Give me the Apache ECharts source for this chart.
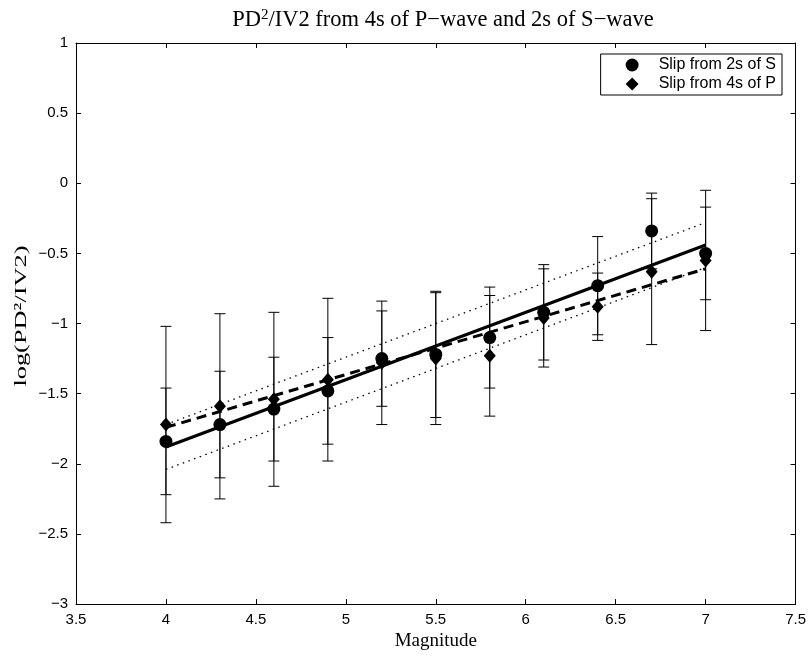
<!DOCTYPE html>
<html>
<head>
<meta charset="utf-8">
<script src="https://cdn.jsdelivr.net/npm/echarts@6/dist/echarts.min.js"></script>
<style>
  html, body { margin: 0; padding: 0; background: #fff; }
  #main { width: 809px; height: 656px; }
</style>
</head>
<body>
<div id="main"></div>
<script>
// magnitudes and mean log(PD^2/IV2)
var magnitude = [4.0, 4.3, 4.6, 4.9, 5.2, 5.5, 5.8, 6.1, 6.4, 6.7, 7.0];
var slipS = [-1.84, -1.72, -1.61, -1.48, -1.25, -1.22, -1.10, -0.92, -0.73, -0.34, -0.50];
var errS  = [0.38, 0.38, 0.37, 0.38, 0.34, 0.45, 0.36, 0.34, 0.35, 0.27, 0.33];
var slipP = [-1.72, -1.59, -1.54, -1.40, -1.28, -1.25, -1.23, -0.96, -0.88, -0.63, -0.55];
var errP  = [0.70, 0.66, 0.62, 0.58, 0.44, 0.47, 0.43, 0.35, 0.24, 0.52, 0.50];

// regression lines (end points)
var fitX = [4, 7];
var fitS = [-1.88, -0.44];
var fitP = [-1.74, -0.61];
var boundUpper = [-1.72, -0.28];
var boundLower = [-2.04, -0.60];

function pairs(xs, ys) {
  return xs.map(function(x, i) { return [x, ys[i]]; });
}
function bars(vals, errs) {
  return magnitude.map(function(m, i) { return [m, vals[i] - errs[i], vals[i] + errs[i]]; });
}
function minus(v) { return String(v).replace('-', '\u2212'); }

function renderBar(params, api) {
  var x = api.value(0);
  var lo = api.coord([x, api.value(1)]);
  var hi = api.coord([x, api.value(2)]);
  var w = 5.5;
  var st = { stroke: '#000', lineWidth: 1 };
  return {
    type: 'group',
    children: [
      { type: 'line', shape: { x1: lo[0], y1: lo[1], x2: hi[0], y2: hi[1] }, style: st },
      { type: 'line', shape: { x1: lo[0] - w, y1: lo[1], x2: lo[0] + w, y2: lo[1] }, style: st },
      { type: 'line', shape: { x1: hi[0] - w, y1: hi[1], x2: hi[0] + w, y2: hi[1] }, style: st }
    ]
  };
}

var serif = 'Liberation Serif';
var tickFont = { fontFamily: 'Liberation Sans', fontSize: 15, color: '#000' };
var axLine = { onZero: false, lineStyle: { color: '#000', width: 1 } };
var axTick = { inside: true, length: 5, lineStyle: { color: '#000' } };

var chart = echarts.init(document.getElementById('main'));
chart.setOption({
  animation: false,
  backgroundColor: '#fff',
  title: {
    text: 'PD{sup|2}/IV2 from 4s of P\u2212wave and 2s of S\u2212wave',
    left: 438, textAlign: 'center', top: 3,
    textStyle: {
      fontFamily: serif, fontSize: 22.5, fontWeight: 'normal', color: '#000',
      rich: { sup: { fontFamily: serif, fontSize: 15, padding: [0, 0, 10, 0] } }
    }
  },
  graphic: [{
    type: 'text', x: 22, y: 316, rotation: Math.PI / 2, scaleX: 1.55,
    style: {
      text: 'log(PD\u00b2/IV2)', fontFamily: serif, fontSize: 17, fill: '#000',
      align: 'center', verticalAlign: 'middle'
    }
  }],
  legend: {
    orient: 'vertical',
    right: 27, top: 54,
    backgroundColor: '#fff',
    borderColor: '#000', borderWidth: 1, borderRadius: 0,
    padding: [3, 6, 3, 25],
    itemGap: 3,
    itemWidth: 13, itemHeight: 13,
    textStyle: { fontFamily: 'Liberation Sans', fontSize: 16, color: '#000', padding: [0, 0, 0, 15] },
    data: [
      { name: 'Slip from 2s of S', icon: 'circle' },
      { name: 'Slip from 4s of P', icon: 'diamond' }
    ]
  },
  grid: { left: 76, right: 12, top: 43, bottom: 44 },
  xAxis: [{
    type: 'value', min: 3.5, max: 7.5, interval: 0.5,
    name: 'Magnitude', nameLocation: 'middle', nameGap: 26,
    nameTextStyle: { fontFamily: serif, fontSize: 19, color: '#000' },
    axisLine: axLine, axisTick: axTick,
    axisLabel: Object.assign({ margin: 8, formatter: minus }, tickFont),
    splitLine: { show: false }
  }, {
    type: 'value', position: 'top', min: 3.5, max: 7.5, interval: 0.5,
    axisLine: axLine, axisTick: axTick,
    axisLabel: { show: false }, splitLine: { show: false }
  }],
  yAxis: [{
    type: 'value', min: -3, max: 1, interval: 0.5,
    axisLine: axLine, axisTick: axTick,
    axisLabel: Object.assign({ margin: 8, formatter: minus }, tickFont),
    splitLine: { show: false }
  }, {
    type: 'value', position: 'right', min: -3, max: 1, interval: 0.5,
    axisLine: axLine, axisTick: axTick,
    axisLabel: { show: false }, splitLine: { show: false }
  }],
  series: [
    {
      type: 'custom', name: 'errS', renderItem: renderBar, silent: true,
      encode: { x: 0, y: [1, 2] }, data: bars(slipS, errS), z: 1
    },
    {
      type: 'custom', name: 'errP', renderItem: renderBar, silent: true,
      encode: { x: 0, y: [1, 2] }, data: bars(slipP, errP), z: 1
    },
    {
      type: 'line', name: 'upper', data: pairs(fitX, boundUpper), symbol: 'none',
      lineStyle: { color: '#000', width: 1.3, type: [1.5, 4.5] }, z: 2
    },
    {
      type: 'line', name: 'lower', data: pairs(fitX, boundLower), symbol: 'none',
      lineStyle: { color: '#000', width: 1.3, type: [1.5, 4.5] }, z: 2
    },
    {
      type: 'line', name: 'fitP', data: pairs(fitX, fitP), symbol: 'none',
      lineStyle: { color: '#000', width: 3, type: [10, 6] }, z: 2
    },
    {
      type: 'line', name: 'fitS', data: pairs(fitX, fitS), symbol: 'none',
      lineStyle: { color: '#000', width: 3, type: 'solid' }, z: 2
    },
    {
      type: 'scatter', name: 'Slip from 4s of P', data: pairs(magnitude, slipP),
      symbol: 'diamond', symbolSize: [12, 14], itemStyle: { color: '#000', opacity: 1 }, z: 3
    },
    {
      type: 'scatter', name: 'Slip from 2s of S', data: pairs(magnitude, slipS),
      symbol: 'circle', symbolSize: 13, itemStyle: { color: '#000', opacity: 1 }, z: 3
    }
  ]
});
</script>
</body>
</html>
